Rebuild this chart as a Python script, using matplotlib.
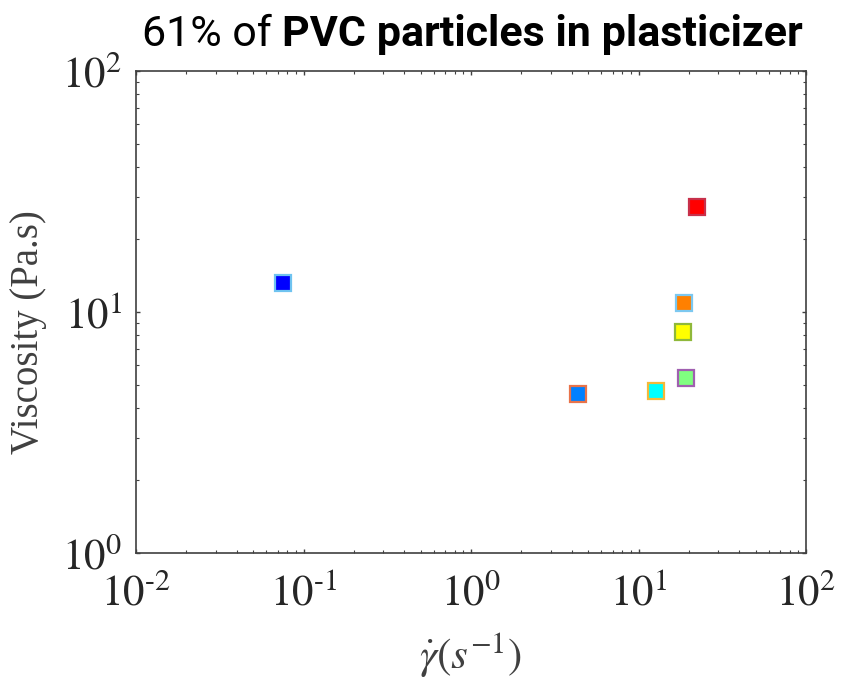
import matplotlib
matplotlib.use("Agg")
import matplotlib.pyplot as plt
from matplotlib.ticker import LogLocator, FuncFormatter
import numpy as np

# shear rate (1/s) and viscosity (Pa.s)
shear_rate = [0.0755, 4.36, 12.7, 19.2, 18.5, 18.7, 22.3]
viscosity = [13.2, 4.57, 4.70, 5.32, 8.26, 10.9, 27.3]
face_colors = ["#0000ff", "#0080ff", "#00ffff", "#80ff80", "#ffff00", "#ff8000", "#ff0000"]
edge_colors = ["#6fc3f0", "#e8734a", "#f5b93a", "#a05fb0", "#8fb83a", "#7cc8f0", "#c8304a"]

plt.rcParams["mathtext.fontset"] = "stix"

fig = plt.figure(figsize=(8.41, 6.83), dpi=100)
ax = fig.add_axes([136 / 841, 1 - 553 / 683, 670 / 841, 482 / 683])

for x, y, fc, ec in zip(shear_rate, viscosity, face_colors, edge_colors):
    ax.plot(x, y, "s", markersize=12, markerfacecolor=fc, markeredgecolor=ec,
            markeredgewidth=1.6, linestyle="none")

ax.set_xscale("log")
ax.set_yscale("log")
ax.set_xlim(1e-2, 1e2)
ax.set_ylim(1e0, 1e2)

ax.xaxis.set_major_locator(LogLocator(base=10, numticks=10))
ax.yaxis.set_major_locator(LogLocator(base=10, numticks=10))
ax.xaxis.set_minor_locator(LogLocator(base=10, subs=np.arange(2, 10), numticks=20))
ax.yaxis.set_minor_locator(LogLocator(base=10, subs=np.arange(2, 10), numticks=20))

fmt = FuncFormatter(lambda v, p: r"$10^{%s}$" % (str(int(round(np.log10(v)))).replace("-", "\u2010")))
ax.xaxis.set_major_formatter(fmt)
ax.yaxis.set_major_formatter(fmt)

ax.tick_params(which="both", direction="in", top=True, right=True, color="#404040", labelcolor="#262626")
ax.tick_params(which="major", length=3, width=1.0, labelsize=31)
ax.tick_params(axis="x", which="major", pad=14)
ax.tick_params(axis="y", which="major", pad=10)
ax.tick_params(which="minor", length=2, width=0.8)
for s in ax.spines.values():
    s.set_color("#404040")
    s.set_linewidth(1.2)

ax.set_ylabel("Viscosity (Pa.s)", fontsize=28, family="Liberation Serif", color="#404040")
ax.yaxis.set_label_coords(-0.133, 0.458)
ax.set_xlabel(r"$\dot{\gamma}\left(s^{-1}\right)$", fontsize=31, color="#404040", labelpad=12)

# title: regular part followed by bold part
t1 = fig.text(142 / 841, 0.950, "61% of ", fontsize=31, family="Roboto", ha="left", va="center")
fig.canvas.draw()
bb = t1.get_window_extent()
fig.text(bb.x1 / fig.bbox.width, 0.950, "PVC particles in plasticizer", fontsize=31,
         family="Roboto", fontweight="bold", ha="left", va="center")

fig.savefig("out.png", dpi=100)
